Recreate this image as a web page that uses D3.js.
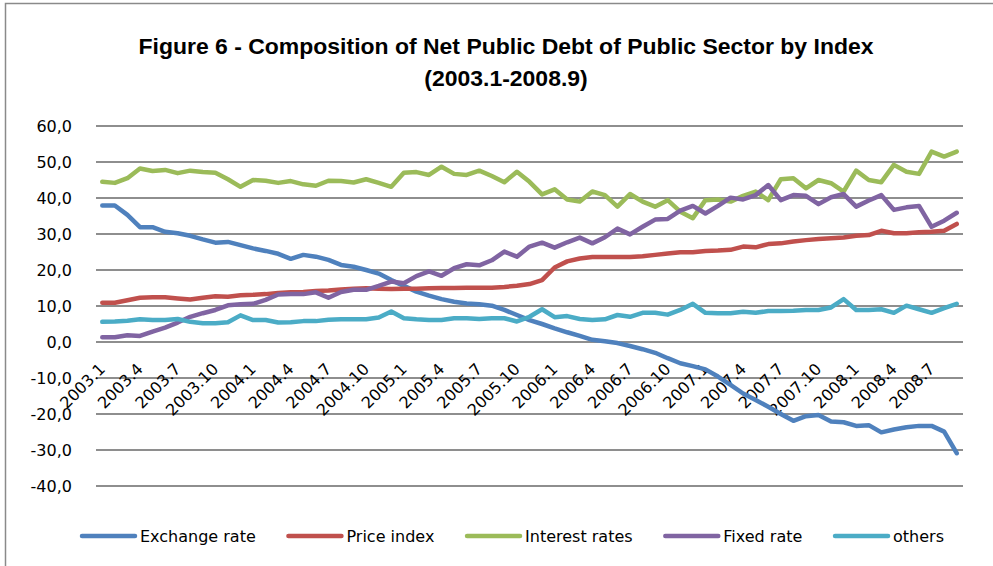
<!DOCTYPE html>
<html><head><meta charset="utf-8">
<script src="https://cdn.jsdelivr.net/npm/d3@7"></script>
<style>
html,body{margin:0;padding:0;background:#fff;}
svg{display:block;}
</style></head><body>
<svg id="c" width="993" height="566"></svg>
<script>
const categories = [
"2003.1","2003.2","2003.3","2003.4","2003.5","2003.6","2003.7","2003.8","2003.9","2003.10","2003.11","2003.12",
"2004.1","2004.2","2004.3","2004.4","2004.5","2004.6","2004.7","2004.8","2004.9","2004.10","2004.11","2004.12",
"2005.1","2005.2","2005.3","2005.4","2005.5","2005.6","2005.7","2005.8","2005.9","2005.10","2005.11","2005.12",
"2006.1","2006.2","2006.3","2006.4","2006.5","2006.6","2006.7","2006.8","2006.9","2006.10","2006.11","2006.12",
"2007.1","2007.2","2007.3","2007.4","2007.5","2007.6","2007.7","2007.8","2007.9","2007.10","2007.11","2007.12",
"2008.1","2008.2","2008.3","2008.4","2008.5","2008.6","2008.7","2008.8","2008.9"];
const tickLabels = ["2003.1","2003.4","2003.7","2003.10","2004.1","2004.4","2004.7","2004.10","2005.1","2005.4",
"2005.7","2005.10","2006.1","2006.4","2006.7","2006.10","2007.1","2007.4","2007.7","2007.10","2008.1","2008.4","2008.7"];
const yTicks = [-40,-30,-20,-10,0,10,20,30,40,50,60];

const exchangeRate = [37.9,37.9,35.3,31.9,31.9,30.6,30.2,29.5,28.5,27.6,27.8,26.9,
26.0,25.3,24.5,23.1,24.2,23.7,22.8,21.4,20.9,20.0,19.0,17.2,
15.6,14.0,12.9,11.9,11.2,10.7,10.5,10.1,8.9,7.5,6.1,5.0,
3.8,2.7,1.7,0.6,0.2,-0.3,-1.1,-2.0,-3.0,-4.5,-5.9,-6.7,
-7.6,-9.6,-11.9,-14.3,-16.1,-18.0,-20.0,-21.9,-20.6,-20.3,-22.1,-22.3,
-23.3,-23.1,-25.1,-24.3,-23.7,-23.3,-23.3,-24.9,-30.9];
const priceIndex = [10.9,10.9,11.6,12.3,12.4,12.4,12.1,11.8,12.3,12.7,12.6,13.0,
13.1,13.3,13.6,13.8,13.9,14.2,14.3,14.6,14.8,14.9,14.8,14.7,
14.8,14.8,14.9,15.0,15.0,15.1,15.1,15.1,15.3,15.6,16.1,17.2,
20.7,22.4,23.2,23.6,23.6,23.6,23.6,23.8,24.2,24.6,24.9,24.9,
25.3,25.4,25.6,26.5,26.3,27.2,27.4,27.9,28.3,28.6,28.8,29.0,
29.5,29.7,30.9,30.2,30.2,30.5,30.6,30.9,32.8];
const interestRates = [44.5,44.2,45.5,48.2,47.5,47.8,46.9,47.6,47.2,47.0,45.2,43.1,
45.0,44.8,44.2,44.7,43.8,43.4,44.8,44.7,44.3,45.2,44.2,43.1,
47.0,47.2,46.4,48.7,46.7,46.4,47.6,46.1,44.4,47.3,44.5,41.0,
42.4,39.6,39.0,41.8,40.8,37.6,41.1,39.0,37.6,39.4,36.2,34.4,
39.4,39.6,39.0,40.6,41.8,39.4,45.2,45.5,42.7,45.0,44.1,41.8,
47.6,45.0,44.4,49.2,47.3,46.7,52.9,51.5,52.9];
const fixedRate = [1.3,1.3,1.9,1.7,2.9,4.0,5.4,7.0,8.0,8.9,10.2,10.5,
10.6,11.7,13.2,13.3,13.3,13.8,12.3,13.9,14.5,14.5,15.6,16.8,
16.3,18.3,19.6,18.4,20.5,21.6,21.3,22.7,25.1,23.7,26.5,27.6,
26.2,27.7,29.0,27.4,29.1,31.5,29.9,32.0,34.0,34.2,36.5,37.8,
35.7,37.8,40.1,39.6,40.8,43.6,39.4,40.8,40.6,38.3,40.2,41.1,
37.6,39.3,40.8,36.7,37.4,37.8,32.0,33.7,35.9];
const others = [5.6,5.7,5.9,6.3,6.1,6.1,6.4,5.6,5.2,5.2,5.5,7.4,
6.1,6.1,5.4,5.5,5.8,5.8,6.2,6.3,6.3,6.3,6.8,8.5,
6.6,6.3,6.1,6.1,6.6,6.6,6.4,6.6,6.6,5.7,7.0,9.1,
6.9,7.2,6.4,6.1,6.3,7.5,7.0,8.1,8.1,7.6,8.9,10.6,
8.1,8.0,8.0,8.4,8.1,8.6,8.6,8.7,8.9,8.9,9.6,11.9,
8.9,8.9,9.1,8.1,10.1,9.1,8.1,9.4,10.6];

const seriesNames = ["Exchange rate","Price index","Interest rates","Fixed rate","others"];
const seriesValues = [exchangeRate, priceIndex, interestRates, fixedRate, others];
const seriesColors = ["#4F81BD","#C0504D","#9BBB59","#8064A2","#4BACC6"];

const titleLines = ["Figure 6 - Composition of Net Public Debt of Public Sector by Index","(2003.1-2008.9)"];

const BODY_FONT = "'DejaVu Sans', sans-serif";
const TITLE_FONT = "'Liberation Sans', Arial, sans-serif";

const svg = d3.select("#c");
svg.append("rect").attr("x",5.5).attr("y",3.5).attr("width",1000).attr("height",600)
  .attr("fill","none").attr("stroke","#8a8a8a").attr("stroke-width",1.5);

const x = d3.scaleBand().domain(categories).range([96,963]).paddingInner(0).paddingOuter(0);
const y = d3.scaleLinear().domain([-40,60]).range([486,126]);
const cx = c => x(c) + x.bandwidth()/2;

svg.append("g").selectAll("line").data(yTicks).join("line")
  .attr("x1",96).attr("x2",963).attr("y1",d=>y(d)).attr("y2",d=>y(d))
  .attr("stroke","#8e8e8e").attr("stroke-width",1.8);

const fmt = d => d3.format(".1f")(d).replace(".",",").replace("\u2212","-");
const yAxis = d3.axisLeft(y).tickValues(yTicks).tickSize(0).tickPadding(0).tickFormat(fmt);
const gy = svg.append("g").attr("transform","translate(72,0)").call(yAxis);
gy.select(".domain").remove();
gy.selectAll("text").style("font-family",BODY_FONT).style("font-size","16px").attr("fill","#000").attr("dy","0.35em");

svg.append("g").selectAll("text").data(tickLabels).join("text")
  .attr("transform",d=>`translate(${cx(d)+4},370) rotate(-45)`)
  .attr("text-anchor","end").style("font-family",BODY_FONT).style("font-size","16px").attr("fill","#000").text(d=>d);

const line = d3.line().x((d,i)=>cx(categories[i])).y(d=>y(d));
svg.append("g").selectAll("path").data(seriesValues).join("path")
  .attr("d",d=>line(d)).attr("fill","none")
  .attr("stroke",(d,i)=>seriesColors[i]).attr("stroke-width",4.5)
  .attr("stroke-linejoin","round").attr("stroke-linecap","round");

// title: bold, fitted to the reference width
const tg = svg.append("g");
const t1 = tg.append("text").attr("x",506).attr("y",54).attr("text-anchor","middle")
  .style("font-family",TITLE_FONT).style("font-weight","bold")
  .style("font-size","22px").attr("fill","#000").text(titleLines[0]);
const w1 = t1.node().getComputedTextLength();
const ratio = 735 / w1;
t1.attr("textLength", w1*ratio).attr("lengthAdjust","spacingAndGlyphs");
const t2 = tg.append("text").attr("x",506).attr("y",86).attr("text-anchor","middle")
  .style("font-family",TITLE_FONT).style("font-weight","bold")
  .style("font-size","22px").attr("fill","#000").text(titleLines[1]);
const w2 = t2.node().getComputedTextLength();
t2.attr("textLength", w2*ratio).attr("lengthAdjust","spacingAndGlyphs");

// legend spread across reference span 82..944
const lg = svg.append("g");
const groups = seriesNames.map((n,i)=>{
  const g = lg.append("g");
  g.append("line").attr("x1",0).attr("x2",53).attr("y1",0).attr("y2",0)
    .attr("stroke",seriesColors[i]).attr("stroke-width",4.5).attr("stroke-linecap","round");
  const t = g.append("text").attr("x",58).attr("y",0).attr("dy","0.35em")
    .style("font-family",BODY_FONT).style("font-size","16px").attr("fill","#000").text(n);
  return {g, w: 58 + t.node().getComputedTextLength()};
});
const sumW = d3.sum(groups, d=>d.w);
const gap = (862 - sumW)/(groups.length-1);
let pos = 82;
groups.forEach(o=>{ o.g.attr("transform",`translate(${pos},536)`); pos += o.w + gap; });
</script>
</body></html>
